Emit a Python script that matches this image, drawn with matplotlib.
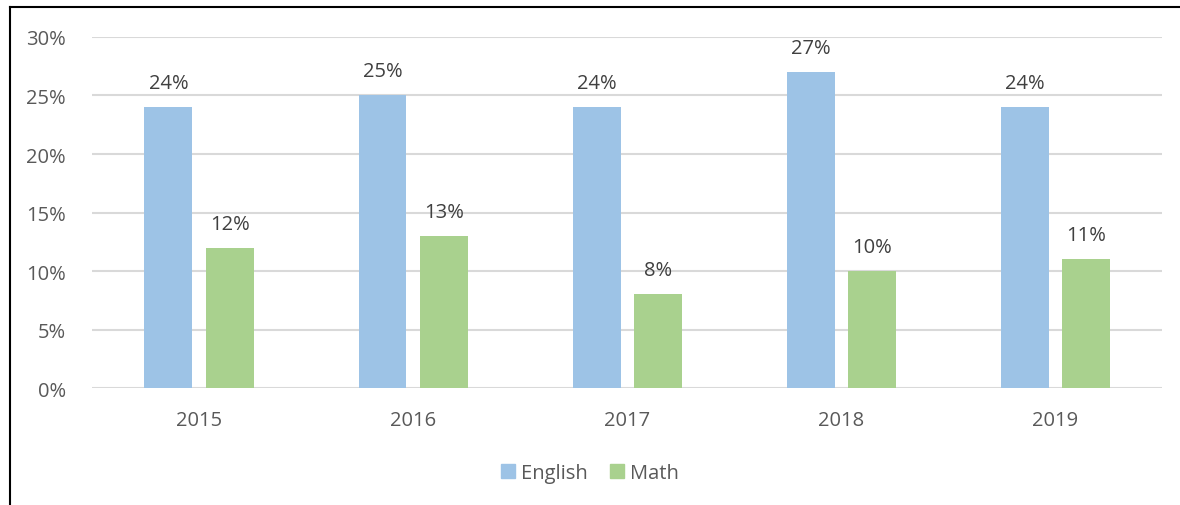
import matplotlib
matplotlib.use('Agg')
import matplotlib.pyplot as plt
from matplotlib.lines import Line2D
from matplotlib.patches import Patch
import matplotlib.ticker as ticker
import numpy as np

plt.rcParams.update({
    "font.family": ["Open Sans", "DejaVu Sans"],
    "font.size": 14.5,
})

years = ['2015', '2016', '2017', '2018', '2019']
english = [24, 25, 24, 27, 24]
math_ = [12, 13, 8, 10, 11]

C_ENG = '#9DC3E6'
C_MATH = '#A9D18E'
C_TXT = '#595959'
C_GRID = '#D9D9D9'

fig = plt.figure(figsize=(11.8, 5.06), dpi=100)
ax = fig.add_axes([0.078, 0.231, 0.907, 0.694])

x = np.arange(len(years))
w = 0.224
off = 0.143
b1 = ax.bar(x - off, english, w, color=C_ENG, zorder=2)
b2 = ax.bar(x + off, math_, w, color=C_MATH, zorder=2)

for bars, vals in ((b1, english), (b2, math_)):
    for r, v in zip(bars, vals):
        ax.text(r.get_x() + r.get_width() / 2, v + 1.2, f'{v}%',
                ha='center', va='bottom', color='#404040', fontsize=14.5)

ax.set_xlim(-0.5, len(years) - 0.5)
ax.set_ylim(0, 30)
ax.set_yticks(range(0, 31, 5))
ax.yaxis.set_major_formatter(ticker.FuncFormatter(lambda v, p: f'{v:.0f}%'))
ax.set_xticks(x)
ax.set_xticklabels(years)
ax.tick_params(length=0, colors=C_TXT, labelsize=14.5)
ax.tick_params(axis='y', pad=19)
ax.tick_params(axis='x', pad=16)
ax.grid(axis='y', color=C_GRID, linewidth=1.5, zorder=0)
for s in ax.spines.values():
    s.set_visible(False)

handles = [Patch(color=C_ENG, label='English'), Patch(color=C_MATH, label='Math')]
leg = fig.legend(handles=handles, loc='center', bbox_to_anchor=(0.5, 0.063), ncol=2,
                 frameon=False, handlelength=0.7, handleheight=0.7, handletextpad=0.3,
                 columnspacing=1.1, fontsize=14.5)
for t in leg.get_texts():
    t.set_color(C_TXT)

# outer frame (left and top edges visible)
fig.add_artist(Line2D([10 / 1180, 10 / 1180], [0, 1 - 8 / 506], color='black', linewidth=1.5))
fig.add_artist(Line2D([10 / 1180, 1], [1 - 8 / 506, 1 - 8 / 506], color='black', linewidth=1.5))

fig.savefig('out.png', dpi=100)
